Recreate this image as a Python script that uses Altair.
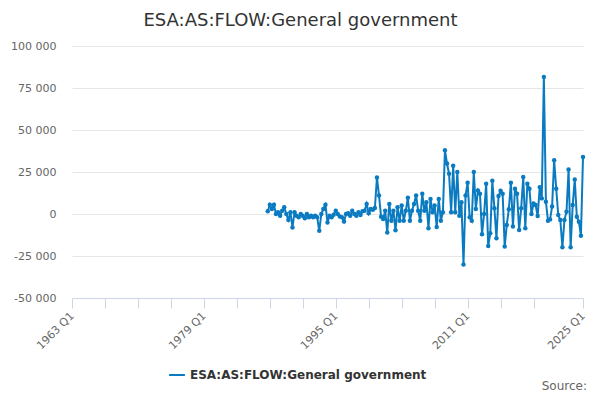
import altair as alt
import pandas as pd

SERIES = "ESA:AS:FLOW:General government"
START_YEAR = 1986
START_QUARTER = 4

values = [
    # 1986Q4 .. 2000Q1
    1600, 5500, 3000, 5500, 0, 1000, -1000, 2000, 4000, 0, -3500, 1000,
    -8000,
    1000, -1000, -2000, 0, -1000, -2500, 0, -2000, -1000, -2000, -1000, -2000,
    -10000,
    0, 3000, 5500,
    -5000, -1000, -2000, -400, 2000, 0, -1500, -2000, -4500, 0, 400, -1000,
    2000, 0, -1000, 1000, -600, 1600, 2000, 6000, 400, 3000, 2500, 3600,
    # 2000Q2 ..
    21800, 11000,
    -1600, -3000, 2000, -11000, 6000, -4000, 2000, -9700, 4000, -4000, 5000,
    -4000, 2000, 9700, -4000, 2000, 6000, 11000, 2000, -4000, 12000, 2000,
    7000, -8500, 9000, 1000, 5000, -7700, 9000, -4000, 1000,
    # 2008Q2 ..
    38000, 30000, 24000, 1000, 28700, 1000, 25000, -1000, 7000,
    -30000,
    11000, 18600, -2000, -4000, 25000, 3000, 14000,
    12000, -12000, 0, 18000, -19000, -11500, 19800, 3400, -14500, 10700,
    13800, 12000, -19400, -6500, 2800, 18600, -7500, 15000, 12000, -9500,
    3400, 22000, -8500, 18000, 15000, 0, 6300, 5300, -1200, 16000, 9300,
    # 2020Q2 ..
    81500,
    7300, -4000, -3200, 4400, 32000, 15000, -600, -3600, -19800, -3600,
    1400, 26500, -19800, 5300, 20600, -1600, -4600, -13000, 34000,
]

times = []
labels = []
y, q = START_YEAR, START_QUARTER
for _ in values:
    times.append(y + (q - 1) / 4)
    labels.append(f"{y} Q{q}")
    q += 1
    if q > 4:
        q = 1
        y += 1

df = pd.DataFrame({"t": times, "period": labels, "value": values, "series": SERIES})

x_ticks = list(range(1963, 2020, 4)) + [2025]
x_labelled = [1963, 1979, 1995, 2011, 2025]
y_ticks = [-50000, -25000, 0, 25000, 50000, 75000, 100000]

FONT = "DejaVu Sans"
COLOR = "#0b7bc1"

W, H = 511, 252

line = alt.Chart(df).mark_line(
    strokeWidth=2,
    point=alt.OverlayMarkDef(size=20, filled=True, opacity=1),
).encode(
    x=alt.X(
        "t:Q",
        scale=alt.Scale(domain=[1963, 2025], nice=False, zero=False),
        axis=alt.Axis(
            values=x_ticks,
            labelExpr="indexof(%s, datum.value) >= 0 ? datum.value + ' Q1' : ''" % str(x_labelled),
            labelAngle=-45,
            labelAlign="right",
            labelBaseline="middle",
            labelFontSize=11,
            labelColor="#666666",
            labelFont=FONT,
            labelFlush=False,
            labelOverlap=False,
            labelPadding=6,
            tickColor="#ccd6eb",
            tickSize=10,
            domainColor="#ccd6eb",
            grid=False,
            title=None,
        ),
    ),
    y=alt.Y(
        "value:Q",
        scale=alt.Scale(domain=[-50000, 100000], nice=False),
        axis=alt.Axis(
            values=y_ticks,
            labelExpr="replace(replace(format(datum.value, ','), ',', ' '), '\u2212', '-')",
            domain=False,
            ticks=False,
            gridColor="#e6e6e6",
            labelPadding=16,
            labelFontSize=11,
            labelColor="#666666",
            labelFont=FONT,
            title=None,
        ),
    ),
    color=alt.Color(
        "series:N",
        scale=alt.Scale(range=[COLOR]),
        legend=alt.Legend(
            title=None,
            orient="none",
            legendX=96,
            legendY=320,
            labelFont=FONT,
            labelFontSize=12,
            labelFontWeight="bold",
            labelColor="#333333",
            labelLimit=0,
            symbolType="stroke",
            symbolStrokeWidth=2,
            symbolSize=250,
        ),
    ),
)

source = alt.Chart(pd.DataFrame({"s": ["Source:"]})).mark_text(
    align="right", baseline="middle", fontSize=12, font=FONT, color="#666666"
).encode(x=alt.value(W + 4), y=alt.value(H + 88), text="s:N")

chart = alt.layer(line, source).properties(
    width=W,
    height=H,
    autosize=alt.AutoSizeParams(type="none"),
    padding={"left": 64, "top": 38, "right": 9, "bottom": 98},
    title=alt.Title(
        "ESA:AS:FLOW:General government",
        fontSize=18,
        font=FONT,
        color="#333333",
        fontWeight="normal",
        anchor="middle",
        dx=-27,
        offset=10,
    ),
).configure_view(stroke=None)

chart.save("out.html", embed_options={"renderer": "svg", "actions": False})
